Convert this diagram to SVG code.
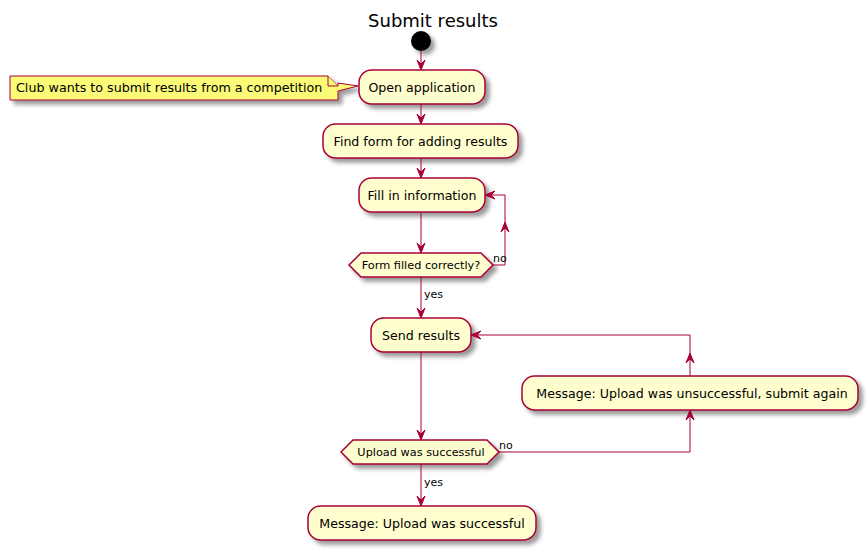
<svg xmlns="http://www.w3.org/2000/svg" width="867" height="550" viewBox="0 0 867 550">
<defs>
<filter id="sh" x="-1" y="-1" width="300%" height="300%">
<feGaussianBlur result="b" stdDeviation="2"/>
<feColorMatrix in="b" result="b2" type="matrix" values="0 0 0 0 0 0 0 0 0 0 0 0 0 0 0 0 0 0 .4 0"/>
<feOffset dx="4" dy="4" in="b2" result="b3"/>
<feBlend in="SourceGraphic" in2="b3" mode="normal"/>
</filter>
</defs>
<style>
text{font-family:"DejaVu Sans","Liberation Sans",sans-serif;fill:#000}
.act{fill:#FEFECE;stroke:#A80036;stroke-width:1.5;filter:url(#sh)}
.at{font-size:12.6px;text-anchor:middle}
.dt{font-size:11.3px;text-anchor:middle}
.lbl{font-size:11px}
.ln{fill:none;stroke:#A80036;stroke-width:1}
.ah{fill:#A80036;stroke:#A80036;stroke-width:1}
</style>
<rect width="867" height="550" fill="#FFFFFF"/>
<text x="433" y="27" style="font-size:18px;text-anchor:middle">Submit results</text>

<g id="start"><circle cx="421" cy="41" r="10" fill="#000" filter="url(#sh)"/></g>

<g id="note">
<path d="M10,76 L328,76 L338,86 L338,83 L358,86 L338,91 L338,100 L10,100 Z" fill="#FBFB77" stroke="#A80036" stroke-width="1" filter="url(#sh)"/>
<path d="M328,76 L328,86 L338,86" fill="#FBFB77" stroke="#A80036" stroke-width="1"/>
<text x="16" y="92" style="font-size:12.7px">Club wants to submit results from a competition</text>
</g>

<g id="open"><rect class="act" x="359" y="70" width="126" height="34" rx="12.5"/><text class="at" x="422" y="92">Open application</text></g>
<g id="find"><rect class="act" x="323" y="124" width="195" height="34" rx="12.5"/><text class="at" x="420.5" y="146">Find form for adding results</text></g>
<g id="fill"><rect class="act" x="359" y="178" width="126" height="34" rx="12.5"/><text class="at" x="422" y="200">Fill in information</text></g>
<g id="check"><polygon class="act" points="349,265 361,253 481,253 493,265 481,277 361,277"/><text class="dt" x="421" y="269">Form filled correctly?</text></g>
<g id="send"><rect class="act" x="371" y="318" width="100" height="34" rx="12.5"/><text class="at" x="421" y="340">Send results</text></g>
<g id="upload"><polygon class="act" points="341,452 353,440 487,440 499,452 487,464 353,464"/><text class="dt" x="421" y="456">Upload was successful</text></g>
<g id="fail"><rect class="act" x="522" y="376" width="336" height="34" rx="12.5"/><text class="at" x="692" y="398">Message: Upload was unsuccessful, submit again</text></g>
<g id="ok"><rect class="act" x="308" y="506" width="228" height="34" rx="12.5"/><text class="at" x="422" y="528">Message: Upload was successful</text></g>

<g id="connectors">
<path class="ln" d="M421,51 L421,70"/>
<polygon class="ah" points="417,60 421,70 425,60 421,64"/>
<path class="ln" d="M421,104 L421,124"/>
<polygon class="ah" points="417,114 421,124 425,114 421,118"/>
<path class="ln" d="M421,158 L421,178"/>
<polygon class="ah" points="417,168 421,178 425,168 421,172"/>
<path class="ln" d="M421,212 L421,253"/>
<polygon class="ah" points="417,243 421,253 425,243 421,247"/>
<path class="ln" d="M493,265 L505,265 L505,195 L485,195"/>
<polygon class="ah" points="501,232 505,222 509,232 505,228"/>
<polygon class="ah" points="495,191 485,195 495,199 491,195"/>
<text class="lbl" x="493" y="262">no</text>
<path class="ln" d="M421,277 L421,318"/>
<polygon class="ah" points="417,308 421,318 425,308 421,312"/>
<text class="lbl" x="424" y="298">yes</text>
<path class="ln" d="M421,352 L421,440"/>
<polygon class="ah" points="417,430 421,440 425,430 421,434"/>
<path class="ln" d="M499,452 L690,452 L690,410"/>
<polygon class="ah" points="686,420 690,410 694,420 690,416"/>
<text class="lbl" x="499" y="449">no</text>
<path class="ln" d="M690,376 L690,335 L471,335"/>
<polygon class="ah" points="686,363 690,353 694,363 690,359"/>
<polygon class="ah" points="481,331 471,335 481,339 477,335"/>
<path class="ln" d="M421,464 L421,506"/>
<polygon class="ah" points="417,496 421,506 425,496 421,500"/>
<text class="lbl" x="424" y="486">yes</text>
</g>
</svg>
